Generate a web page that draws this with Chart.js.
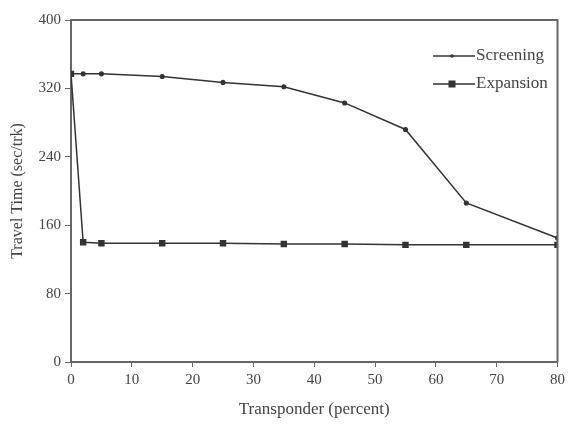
<!DOCTYPE html>
<html>
<head>
<meta charset="utf-8">
<script src="https://cdn.jsdelivr.net/npm/chart.js@4.4.0/dist/chart.umd.min.js"></script>
<style>
  html, body { margin: 0; padding: 0; background: #fff; }
  #wrap { width: 569px; height: 436px; }
</style>
</head>
<body>
<div id="wrap"><canvas id="c" width="569" height="436"></canvas></div>
<script>
// values
const transponder = [0, 2, 5, 15, 25, 35, 45, 55, 65, 80];
const screening = [337, 337, 337, 334, 327, 322, 303, 272, 186, 145];
const expansion = [337, 140, 139, 139, 139, 138, 138, 137, 137, 137];
const xTicks = [0, 10, 20, 30, 40, 50, 60, 70, 80];
const yTicks = [0, 80, 160, 240, 320, 400];

const lineColor = "#333";
const axisColor = "#666";
const textColor = "#444";
const serif = "'Liberation Serif', 'Times New Roman', serif";

const pts = (ys) => transponder.map((x, i) => ({ x: x, y: ys[i] }));

// frame on top/right + legend inside the plot
const boxLegend = {
  id: "boxLegend",
  afterDraw(chart) {
    const { ctx, chartArea: a } = chart;
    ctx.save();
    ctx.strokeStyle = axisColor;
    ctx.lineWidth = 2;
    ctx.beginPath();
    ctx.moveTo(a.left, a.top);
    ctx.lineTo(a.right, a.top);
    ctx.lineTo(a.right, a.bottom);
    ctx.stroke();

    chart.data.datasets.forEach((ds, i) => {
      const y = 56 + i * 28;
      ctx.strokeStyle = lineColor;
      ctx.lineWidth = ds.borderWidth;
      ctx.beginPath();
      ctx.moveTo(433, y);
      ctx.lineTo(475, y);
      ctx.stroke();
      ctx.fillStyle = lineColor;
      if (ds.pointStyle === "rect") {
        const r = ds.pointRadius;
        ctx.fillRect(452 - r, y - r, r * 2, r * 2);
      } else {
        ctx.beginPath();
        ctx.arc(452, y, ds.pointRadius, 0, Math.PI * 2);
        ctx.fill();
      }
      ctx.fillStyle = textColor;
      ctx.font = "17px " + serif;
      ctx.textBaseline = "middle";
      ctx.textAlign = "left";
      ctx.fillText(ds.label, 476, y);
    });
    ctx.restore();
  }
};

new Chart(document.getElementById("c"), {
  type: "scatter",
  data: {
    datasets: [
      {
        label: "Screening",
        data: pts(screening),
        showLine: true,
        borderColor: lineColor,
        backgroundColor: lineColor,
        borderWidth: 1.5,
        pointStyle: "circle",
        pointRadius: 1.8,
        tension: 0
      },
      {
        label: "Expansion",
        data: pts(expansion),
        showLine: true,
        borderColor: lineColor,
        backgroundColor: lineColor,
        borderWidth: 1.5,
        pointStyle: "rect",
        pointRadius: 3.5,
        tension: 0
      }
    ]
  },
  options: {
    responsive: false,
    animation: false,
    layout: { padding: { top: 20, right: 11, left: 0, bottom: 0 } },
    plugins: {
      legend: { display: false },
      tooltip: { enabled: false }
    },
    scales: {
      x: {
        type: "linear",
        min: 0,
        max: 80,
        afterBuildTicks: (s) => { s.ticks = xTicks.map(v => ({ value: v })); },
        afterFit: (s) => { s.height = 74; },
        ticks: { color: textColor, font: { family: serif, size: 15 }, padding: 4 },
        grid: { drawOnChartArea: false, tickLength: 5, color: axisColor },
        border: { color: axisColor, width: 2 },
        title: {
          display: true,
          text: "Transponder (percent)",
          color: textColor,
          font: { family: serif, size: 17 },
          padding: { bottom: 16 }
        }
      },
      y: {
        min: 0,
        max: 400,
        afterBuildTicks: (s) => { s.ticks = yTicks.map(v => ({ value: v })); },
        afterFit: (s) => { s.width = 71; },
        ticks: { color: textColor, font: { family: serif, size: 15 }, padding: 4 },
        grid: { drawOnChartArea: false, tickLength: 6, color: axisColor },
        border: { color: axisColor, width: 2 },
        title: {
          display: true,
          text: "Travel Time (sec/trk)",
          color: textColor,
          font: { family: serif, size: 16 },
          padding: { top: 8 }
        }
      }
    }
  },
  plugins: [boxLegend]
});
</script>
</body>
</html>
